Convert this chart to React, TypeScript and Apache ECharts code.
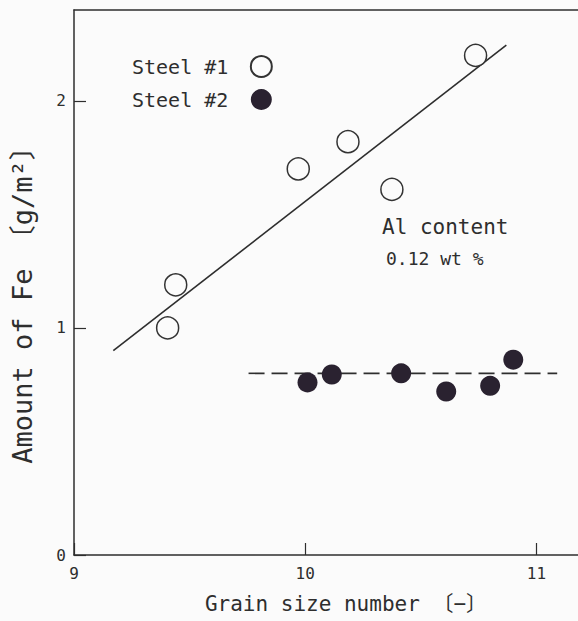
import React, { useEffect, useRef } from "react";
import * as echarts from "echarts";

const steel1X = [9.405, 9.44, 9.97, 10.185, 10.375, 10.737];
const steel1Y = [1.0, 1.19, 1.7, 1.82, 1.61, 2.2];
const steel2X = [10.01, 10.115, 10.415, 10.61, 10.8, 10.9];
const steel2Y = [0.76, 0.795, 0.8, 0.72, 0.745, 0.86];
const fit1X = [9.17, 10.87];
const fit1Y = [0.9, 2.245];
const fit2X = [9.755, 11.09];
const fit2Y = [0.8, 0.8];
const seriesNames = ["Steel #1", "Steel #2"];
const xName = "Grain size number 〔−〕";
const yName = "Amount of Fe 〔g/m²〕";
const note1 = "Al content";
const note2 = "0.12 wt %";

const zip = (a: number[], b: number[]) => a.map((v, i) => [v, b[i]]);

const FONT = "'DejaVu Sans Mono', 'Noto Sans CJK JP', monospace";
const INK = "#2e2e2e";

export default function App() {
  const ref = useRef<HTMLDivElement>(null);
  useEffect(() => {
    if (!ref.current) return;
    const chart = echarts.init(ref.current, undefined, { renderer: "svg" });
    chart.setOption({
      animation: false,
      backgroundColor: "#fbfbfb",
      grid: { left: 74, right: 0, top: 10, bottom: 66 },
      legend: {
        data: seriesNames,
        orient: "vertical",
        left: 127,
        top: 50,
        align: "right",
        itemWidth: 56,
        itemHeight: 21,
        itemGap: 11,
        selectedMode: false,
        textStyle: { fontFamily: FONT, fontSize: 20, color: INK },
      },
      xAxis: [
        {
          type: "value",
          min: 9,
          max: 11.18,
          interval: 1,
          name: xName,
          nameLocation: "middle",
          nameGap: 38,
          nameTextStyle: {
            fontFamily: FONT,
            fontSize: 21,
            color: INK,
            padding: [0, 0, 0, 40],
          },
          axisLine: { lineStyle: { color: INK, width: 1.5 } },
          axisTick: { inside: true, length: 12, lineStyle: { color: INK, width: 1.2 } },
          axisLabel: {
            fontFamily: FONT,
            fontSize: 16,
            color: INK,
            margin: 10,
            showMaxLabel: false,
          },
          splitLine: { show: false },
        },
        {
          type: "value",
          position: "top",
          min: 9,
          max: 11.18,
          axisLine: { show: true, lineStyle: { color: INK, width: 1.5 } },
          axisTick: { show: false },
          axisLabel: { show: false },
          splitLine: { show: false },
        },
      ],
      yAxis: {
        type: "value",
        min: 0,
        max: 2.4,
        interval: 1,
        name: yName,
        nameLocation: "middle",
        nameGap: 38,
        nameTextStyle: {
          fontFamily: FONT,
          fontSize: 27,
          color: INK,
          padding: [0, 32, 0, 0],
        },
        axisLine: { show: true, lineStyle: { color: INK, width: 1.5 } },
        axisTick: { show: true, inside: true, length: 12, lineStyle: { color: INK, width: 1.2 } },
        axisLabel: {
          fontFamily: FONT,
          fontSize: 16,
          color: INK,
          margin: 8,
          showMaxLabel: false,
        },
        splitLine: { show: false },
      },
      graphic: [
        {
          type: "text",
          left: 382,
          top: 216,
          style: { text: note1, font: `21px ${FONT}`, fill: INK },
        },
        {
          type: "text",
          left: 386,
          top: 249,
          style: { text: note2, font: `18px ${FONT}`, fill: INK },
        },
      ],
      series: [
        {
          type: "line",
          data: zip(fit1X, fit1Y),
          showSymbol: false,
          silent: true,
          lineStyle: { color: INK, width: 1.6 },
          z: 1,
        },
        {
          type: "line",
          data: zip(fit2X, fit2Y),
          showSymbol: false,
          silent: true,
          lineStyle: { color: INK, width: 1.6, type: [16, 7] },
          z: 1,
        },
        {
          name: seriesNames[0],
          type: "scatter",
          data: zip(steel1X, steel1Y),
          symbol: "circle",
          symbolSize: 22,
          itemStyle: { color: "#fbfbfb", borderColor: "#333", borderWidth: 1.5, opacity: 1 },
          z: 3,
        },
        {
          name: seriesNames[1],
          type: "scatter",
          data: zip(steel2X, steel2Y),
          symbol: "circle",
          symbolSize: 20,
          itemStyle: { color: "#2a2230", opacity: 1 },
          z: 3,
        },
      ],
    });
    return () => chart.dispose();
  }, []);
  return (
    <div
      ref={ref}
      style={{ position: "fixed", left: 0, top: 0, width: 578, height: 621 }}
    />
  );
}
